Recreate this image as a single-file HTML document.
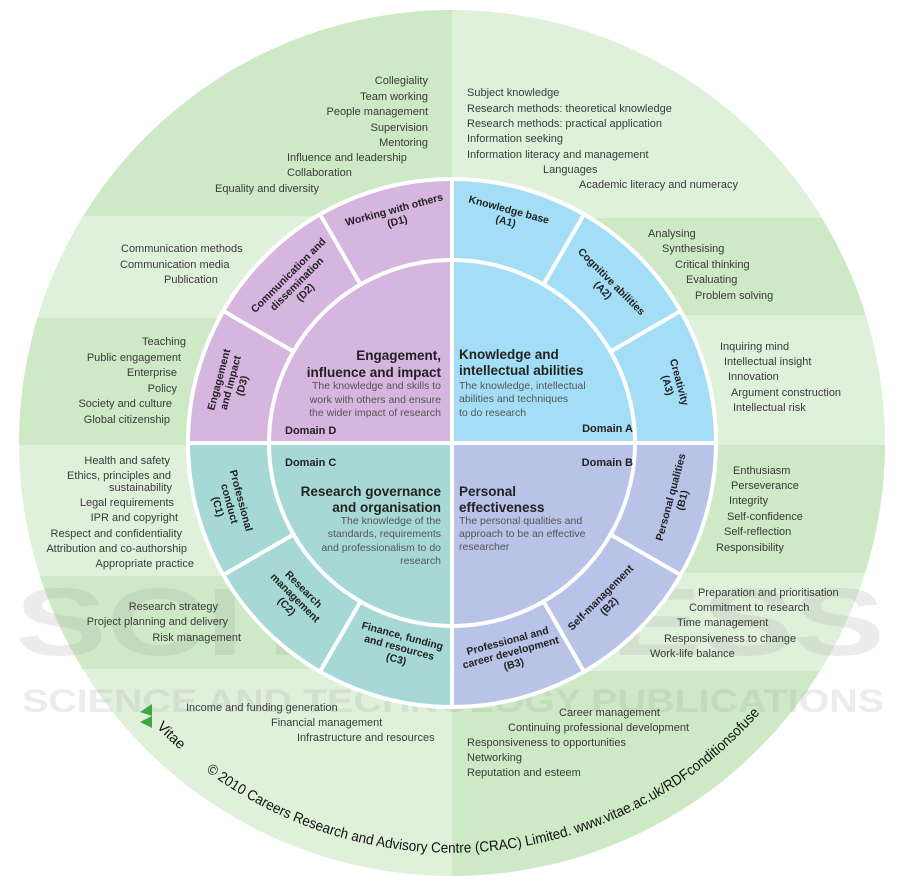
<!DOCTYPE html>
<html><head><meta charset="utf-8"><style>
html,body{margin:0;padding:0;background:#fff;}
svg{display:block;}
text{font-family:"Liberation Sans",Arial,sans-serif;}
.o{font-size:11px;fill:#3a3a3a;}
.t{font-size:13.5px;font-weight:bold;fill:#222;}
.d{font-size:10.5px;fill:#555;}
.dm{font-size:11px;font-weight:bold;fill:#222;}
.s{font-size:10.5px;font-weight:bold;fill:#222;text-anchor:middle;}
</style></head><body>
<svg width="901" height="886" viewBox="0 0 901 886" xmlns="http://www.w3.org/2000/svg">
<defs><clipPath id="c"><circle cx="452" cy="443" r="433"/></clipPath>
<path id="arc" d="M147,717 A410,410 0 0 0 766,706" fill="none"/></defs>
<g clip-path="url(#c)">
<rect x="0" y="0" width="452" height="216" fill="#cde9c5"/>
<rect x="0" y="216" width="452" height="102" fill="#e0f1db"/>
<rect x="0" y="318" width="452" height="127" fill="#cde9c5"/>
<rect x="0" y="445" width="452" height="131" fill="#e0f1db"/>
<rect x="0" y="576" width="452" height="93" fill="#cde9c5"/>
<rect x="0" y="669" width="452" height="217" fill="#e0f1db"/>
<rect x="452" y="0" width="449" height="218" fill="#e0f1db"/>
<rect x="452" y="218" width="449" height="97" fill="#cde9c5"/>
<rect x="452" y="315" width="449" height="130" fill="#e0f1db"/>
<rect x="452" y="445" width="449" height="128" fill="#cde9c5"/>
<rect x="452" y="573" width="449" height="98" fill="#e0f1db"/>
<rect x="452" y="671" width="449" height="215" fill="#cde9c5"/>
</g>
<!-- watermark -->
<text x="15" y="655" font-size="96" font-weight="bold" textLength="870" lengthAdjust="spacingAndGlyphs" fill="#a0a0a0" fill-opacity="0.2">SCITEPRESS</text>
<text x="22" y="712" font-size="32" font-weight="bold" textLength="862" lengthAdjust="spacingAndGlyphs" fill="#a0a0a0" fill-opacity="0.2">SCIENCE AND TECHNOLOGY PUBLICATIONS</text>
<!-- quadrants -->
<path d="M452,443 L452,179 A264,264 0 0 1 716,443 Z" fill="#a3def6"/>
<path d="M452,443 L716,443 A264,264 0 0 1 452,707 Z" fill="#b9c3e8"/>
<path d="M452,443 L452,707 A264,264 0 0 1 188,443 Z" fill="#a6d9d6"/>
<path d="M452,443 L188,443 A264,264 0 0 1 452,179 Z" fill="#d6b5df"/>
<g stroke="#fff" stroke-width="4" fill="none">
<circle cx="452" cy="443" r="264"/>
<circle cx="452" cy="443" r="183"/>
<line x1="452" y1="177" x2="452" y2="709"/>
<line x1="186" y1="443" x2="718" y2="443"/>
<line x1="543.5" y1="284.5" x2="584" y2="214.4"/>
<line x1="610.5" y1="351.5" x2="680.6" y2="311"/>
<line x1="360.5" y1="284.5" x2="320" y2="214.4"/>
<line x1="293.5" y1="351.5" x2="223.4" y2="311"/>
<line x1="543.5" y1="601.5" x2="584" y2="671.6"/>
<line x1="610.5" y1="534.5" x2="680.6" y2="575"/>
<line x1="360.5" y1="601.5" x2="320" y2="671.6"/>
<line x1="293.5" y1="534.5" x2="223.4" y2="575"/>
</g>
<!-- domain texts -->
<text class="t" text-anchor="end"><tspan x="441" y="360">Engagement,</tspan><tspan x="441" y="377">influence and impact</tspan></text>
<text class="d" text-anchor="end"><tspan x="441" y="389">The knowledge and skills to</tspan><tspan x="441" y="403">work with others and ensure</tspan><tspan x="441" y="416">the wider impact of research</tspan></text>
<text class="dm" x="285" y="434">Domain D</text>
<text class="t"><tspan x="459" y="359">Knowledge and</tspan><tspan x="459" y="375">intellectual abilities</tspan></text>
<text class="d"><tspan x="459" y="389">The knowledge, intellectual</tspan><tspan x="459" y="402">abilities and techniques</tspan><tspan x="459" y="416">to do research</tspan></text>
<text class="dm" x="633" y="432" text-anchor="end">Domain A</text>
<text class="dm" x="285" y="466">Domain C</text>
<text class="t" text-anchor="end"><tspan x="441" y="496">Research governance</tspan><tspan x="441" y="512">and organisation</tspan></text>
<text class="d" text-anchor="end"><tspan x="441" y="524">The knowledge of the</tspan><tspan x="441" y="537">standards, requirements</tspan><tspan x="441" y="551">and professionalism to do</tspan><tspan x="441" y="564">research</tspan></text>
<text class="dm" x="633" y="466" text-anchor="end">Domain B</text>
<text class="t"><tspan x="459" y="496">Personal</tspan><tspan x="459" y="512">effectiveness</tspan></text>
<text class="d"><tspan x="459" y="524">The personal qualities and</tspan><tspan x="459" y="537">approach to be an effective</tspan><tspan x="459" y="550">researcher</tspan></text>
<!-- segment labels -->
<text class="s" transform="translate(395,213) rotate(-15)"><tspan x="0" y="0">Working with others</tspan><tspan x="0" y="12">(D1)</tspan></text>
<text class="s" transform="translate(508,213) rotate(15)"><tspan x="0" y="0">Knowledge base</tspan><tspan x="0" y="12">(A1)</tspan></text>
<text class="s" transform="translate(295,282) rotate(-45)"><tspan x="0" y="-6">Communication and</tspan><tspan x="0" y="6">dissemination</tspan><tspan x="0" y="18">(D2)</tspan></text>
<text class="s" transform="translate(609,284) rotate(45)"><tspan x="0" y="0">Cognitive abilities</tspan><tspan x="0" y="12">(A2)</tspan></text>
<text class="s" transform="translate(228,382) rotate(-75)"><tspan x="0" y="-6">Engagement</tspan><tspan x="0" y="6">and impact</tspan><tspan x="0" y="18">(D3)</tspan></text>
<text class="s" transform="translate(676,383) rotate(75)"><tspan x="0" y="0">Creativity</tspan><tspan x="0" y="12">(A3)</tspan></text>
<text class="s" transform="translate(232,503) rotate(75)"><tspan x="0" y="-6">Professional</tspan><tspan x="0" y="6">conduct</tspan><tspan x="0" y="18">(C1)</tspan></text>
<text class="s" transform="translate(674,498) rotate(-75)"><tspan x="0" y="0">Personal qualities</tspan><tspan x="0" y="12">(B1)</tspan></text>
<text class="s" transform="translate(297,596) rotate(45)"><tspan x="0" y="-6">Research</tspan><tspan x="0" y="6">management</tspan><tspan x="0" y="18">(C2)</tspan></text>
<text class="s" transform="translate(603,600) rotate(-45)"><tspan x="0" y="0">Self-management</tspan><tspan x="0" y="12">(B2)</tspan></text>
<text class="s" transform="translate(400,645) rotate(15)"><tspan x="0" y="-6">Finance, funding</tspan><tspan x="0" y="6">and resources</tspan><tspan x="0" y="18">(C3)</tspan></text>
<text class="s" transform="translate(510,650) rotate(-15)"><tspan x="0" y="-6">Professional and</tspan><tspan x="0" y="6">career development</tspan><tspan x="0" y="18">(B3)</tspan></text>
<!-- outer labels -->
<g class="o">
<text text-anchor="end"><tspan x="428" y="84">Collegiality</tspan><tspan x="428" y="100">Team working</tspan><tspan x="428" y="115">People management</tspan><tspan x="428" y="131">Supervision</tspan><tspan x="428" y="146">Mentoring</tspan></text>
<text x="287" y="161">Influence and leadership</text>
<text x="287" y="176">Collaboration</text>
<text x="215" y="192">Equality and diversity</text>
<text><tspan x="467" y="96">Subject knowledge</tspan><tspan x="467" y="112">Research methods: theoretical knowledge</tspan><tspan x="467" y="127">Research methods: practical application</tspan><tspan x="467" y="142">Information seeking</tspan><tspan x="467" y="158">Information literacy and management</tspan></text>
<text x="543" y="173">Languages</text>
<text x="579" y="188">Academic literacy and numeracy</text>
<text x="648" y="237">Analysing</text>
<text x="662" y="252">Synthesising</text>
<text x="675" y="268">Critical thinking</text>
<text x="686" y="283">Evaluating</text>
<text x="695" y="299">Problem solving</text>
<text x="720" y="350">Inquiring mind</text>
<text x="724" y="365">Intellectual insight</text>
<text x="728" y="380">Innovation</text>
<text x="731" y="396">Argument construction</text>
<text x="733" y="411">Intellectual risk</text>
<text x="121" y="252">Communication methods</text>
<text x="120" y="268">Communication media</text>
<text x="164" y="283">Publication</text>
<text x="186" y="345" text-anchor="end">Teaching</text>
<text x="181" y="361" text-anchor="end">Public engagement</text>
<text x="177" y="376" text-anchor="end">Enterprise</text>
<text x="177" y="392" text-anchor="end">Policy</text>
<text x="172" y="407" text-anchor="end">Society and culture</text>
<text x="170" y="423" text-anchor="end">Global citizenship</text>
<text x="170" y="464" text-anchor="end">Health and safety</text>
<text x="171" y="479" text-anchor="end">Ethics, principles and</text>
<text x="172" y="491" text-anchor="end">sustainability</text>
<text x="174" y="506" text-anchor="end">Legal requirements</text>
<text x="178" y="521" text-anchor="end">IPR and copyright</text>
<text x="182" y="537" text-anchor="end">Respect and confidentiality</text>
<text x="187" y="552" text-anchor="end">Attribution and co-authorship</text>
<text x="194" y="567" text-anchor="end">Appropriate practice</text>
<text x="218" y="610" text-anchor="end">Research strategy</text>
<text x="228" y="625" text-anchor="end">Project planning and delivery</text>
<text x="241" y="641" text-anchor="end">Risk management</text>
<text x="186" y="711">Income and funding generation</text>
<text x="271" y="726">Financial management</text>
<text x="297" y="741">Infrastructure and resources</text>
<text x="733" y="474">Enthusiasm</text>
<text x="731" y="489">Perseverance</text>
<text x="729" y="504">Integrity</text>
<text x="727" y="520">Self-confidence</text>
<text x="724" y="535">Self-reflection</text>
<text x="716" y="551">Responsibility</text>
<text x="698" y="596">Preparation and prioritisation</text>
<text x="689" y="611">Commitment to research</text>
<text x="677" y="626">Time management</text>
<text x="664" y="642">Responsiveness to change</text>
<text x="650" y="657">Work-life balance</text>
<text x="559" y="716">Career management</text>
<text x="508" y="731">Continuing professional development</text>
<text x="467" y="746">Responsiveness to opportunities</text>
<text x="467" y="761">Networking</text>
<text x="467" y="776">Reputation and esteem</text>
</g>
<!-- vitae logo -->
<polygon points="140,712 152,704 152,716" fill="#3aa845"/>
<polygon points="140,722 152,716 152,728" fill="#3aa845"/>
<!-- copyright arc -->
<text font-size="14.5" fill="#111"><textPath href="#arc" startOffset="14">Vitae</textPath></text>
<text font-size="14.5" fill="#111"><textPath href="#arc" startOffset="80" textLength="612" lengthAdjust="spacingAndGlyphs">© 2010 Careers Research and Advisory Centre (CRAC) Limited. www.vitae.ac.uk/RDFconditionsofuse</textPath></text>
</svg>
</body></html>
